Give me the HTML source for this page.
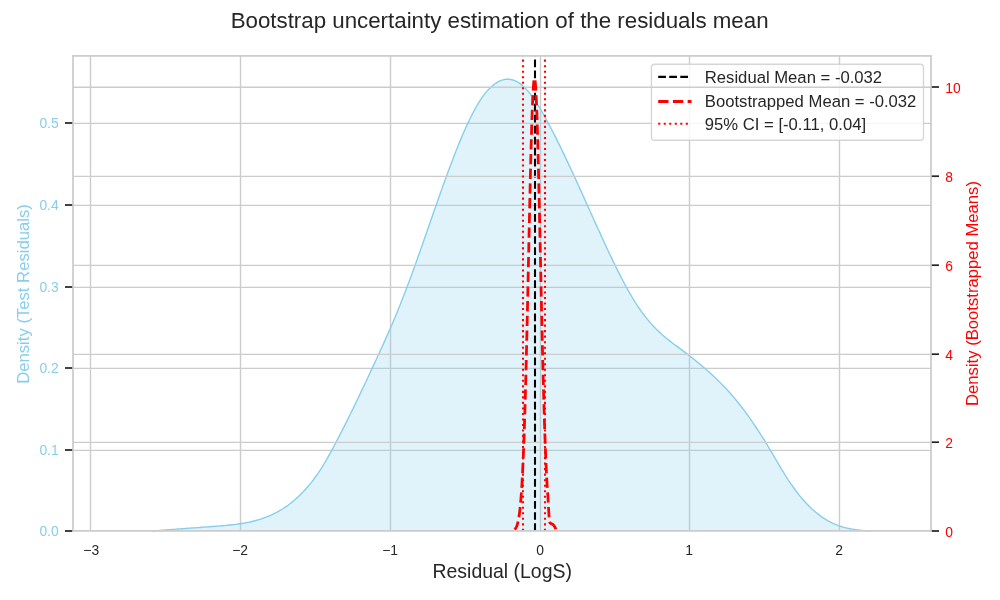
<!DOCTYPE html>
<html lang="en"><head><meta charset="utf-8"><title>Bootstrap uncertainty estimation of the residuals mean</title>
<style>html,body{margin:0;padding:0;background:#fff;overflow:hidden;}svg{display:block;will-change:transform;transform:translateZ(0);}text{font-family:"Liberation Sans",Arial,sans-serif;}</style></head><body>
<svg width="1000" height="600" viewBox="0 0 1000 600">
<rect width="1000" height="600" fill="#ffffff"/>
<g stroke="#cccccc" stroke-width="1.39" fill="none">
<line x1="90.5" y1="55.9" x2="90.5" y2="530.9"/>
<line x1="240.5" y1="55.9" x2="240.5" y2="530.9"/>
<line x1="390.5" y1="55.9" x2="390.5" y2="530.9"/>
<line x1="540.5" y1="55.9" x2="540.5" y2="530.9"/>
<line x1="689.5" y1="55.9" x2="689.5" y2="530.9"/>
<line x1="839.5" y1="55.9" x2="839.5" y2="530.9"/>
<line x1="73.0" y1="450.4" x2="931.0" y2="450.4"/>
<line x1="73.0" y1="368.4" x2="931.0" y2="368.4"/>
<line x1="73.0" y1="287.4" x2="931.0" y2="287.4"/>
<line x1="73.0" y1="205.4" x2="931.0" y2="205.4"/>
<line x1="73.0" y1="123.4" x2="931.0" y2="123.4"/>
</g>
<path d="M152.0,531.00 L154.0,530.97 L156.0,530.79 L158.0,530.62 L160.0,530.45 L162.0,530.28 L164.0,530.11 L166.0,529.95 L168.0,529.79 L170.0,529.64 L172.0,529.48 L174.0,529.33 L176.0,529.18 L178.0,529.03 L180.0,528.89 L182.0,528.74 L184.0,528.59 L186.0,528.45 L188.0,528.31 L190.0,528.16 L192.0,528.02 L194.0,527.88 L196.0,527.74 L198.0,527.59 L200.0,527.45 L202.0,527.30 L204.0,527.16 L206.0,527.01 L208.0,526.86 L210.0,526.71 L212.0,526.56 L214.0,526.40 L216.0,526.24 L218.0,526.08 L220.0,525.92 L222.0,525.75 L224.0,525.58 L226.0,525.40 L228.0,525.21 L230.0,525.01 L232.0,524.80 L234.0,524.57 L236.0,524.33 L238.0,524.06 L240.0,523.78 L242.0,523.47 L244.0,523.13 L246.0,522.77 L248.0,522.38 L250.0,521.95 L252.0,521.49 L254.0,521.00 L256.0,520.47 L258.0,519.90 L260.0,519.29 L262.0,518.63 L264.0,517.93 L266.0,517.18 L268.0,516.38 L270.0,515.53 L272.0,514.63 L274.0,513.67 L276.0,512.65 L278.0,511.57 L280.0,510.43 L282.0,509.22 L284.0,507.95 L286.0,506.61 L288.0,505.20 L290.0,503.72 L292.0,502.16 L294.0,500.52 L296.0,498.80 L298.0,496.99 L300.0,495.09 L302.0,493.10 L304.0,491.01 L306.0,488.83 L308.0,486.53 L310.0,484.13 L312.0,481.62 L314.0,478.99 L316.0,476.25 L318.0,473.38 L320.0,470.39 L322.0,467.27 L324.0,464.01 L326.0,460.64 L328.0,457.15 L330.0,453.57 L332.0,449.91 L334.0,446.18 L336.0,442.39 L338.0,438.56 L340.0,434.69 L342.0,430.78 L344.0,426.83 L346.0,422.84 L348.0,418.82 L350.0,414.77 L352.0,410.69 L354.0,406.59 L356.0,402.45 L358.0,398.29 L360.0,394.11 L362.0,389.91 L364.0,385.69 L366.0,381.45 L368.0,377.20 L370.0,372.93 L372.0,368.65 L374.0,364.36 L376.0,360.06 L378.0,355.74 L380.0,351.39 L382.0,347.01 L384.0,342.59 L386.0,338.12 L388.0,333.61 L390.0,329.04 L392.0,324.41 L394.0,319.71 L396.0,314.93 L398.0,310.08 L400.0,305.14 L402.0,300.11 L404.0,294.99 L406.0,289.78 L408.0,284.50 L410.0,279.15 L412.0,273.72 L414.0,268.23 L416.0,262.68 L418.0,257.08 L420.0,251.44 L422.0,245.76 L424.0,240.05 L426.0,234.32 L428.0,228.57 L430.0,222.82 L432.0,217.08 L434.0,211.34 L436.0,205.62 L438.0,199.92 L440.0,194.25 L442.0,188.63 L444.0,183.06 L446.0,177.54 L448.0,172.08 L450.0,166.69 L452.0,161.39 L454.0,156.17 L456.0,151.05 L458.0,146.03 L460.0,141.13 L462.0,136.35 L464.0,131.71 L466.0,127.21 L468.0,122.88 L470.0,118.70 L472.0,114.70 L474.0,110.89 L476.0,107.27 L478.0,103.86 L480.0,100.66 L482.0,97.68 L484.0,94.93 L486.0,92.40 L488.0,90.09 L490.0,88.01 L492.0,86.14 L494.0,84.50 L496.0,83.07 L498.0,81.87 L500.0,80.89 L502.0,80.14 L504.0,79.61 L506.0,79.31 L508.0,79.23 L510.0,79.38 L512.0,79.76 L514.0,80.37 L516.0,81.21 L518.0,82.29 L520.0,83.59 L522.0,85.13 L524.0,86.90 L526.0,88.90 L528.0,91.13 L530.0,93.58 L532.0,96.21 L534.0,99.03 L536.0,102.02 L538.0,105.17 L540.0,108.45 L542.0,111.86 L544.0,115.39 L546.0,119.01 L548.0,122.70 L550.0,126.46 L552.0,130.29 L554.0,134.17 L556.0,138.11 L558.0,142.11 L560.0,146.16 L562.0,150.26 L564.0,154.41 L566.0,158.61 L568.0,162.84 L570.0,167.12 L572.0,171.42 L574.0,175.76 L576.0,180.12 L578.0,184.51 L580.0,188.91 L582.0,193.33 L584.0,197.76 L586.0,202.20 L588.0,206.64 L590.0,211.08 L592.0,215.52 L594.0,219.95 L596.0,224.37 L598.0,228.78 L600.0,233.16 L602.0,237.53 L604.0,241.87 L606.0,246.18 L608.0,250.46 L610.0,254.70 L612.0,258.90 L614.0,263.04 L616.0,267.12 L618.0,271.14 L620.0,275.10 L622.0,278.97 L624.0,282.77 L626.0,286.48 L628.0,290.09 L630.0,293.61 L632.0,297.02 L634.0,300.32 L636.0,303.50 L638.0,306.56 L640.0,309.49 L642.0,312.30 L644.0,315.00 L646.0,317.57 L648.0,320.04 L650.0,322.40 L652.0,324.66 L654.0,326.82 L656.0,328.89 L658.0,330.86 L660.0,332.75 L662.0,334.56 L664.0,336.29 L666.0,337.96 L668.0,339.58 L670.0,341.15 L672.0,342.68 L674.0,344.19 L676.0,345.68 L678.0,347.16 L680.0,348.64 L682.0,350.13 L684.0,351.63 L686.0,353.14 L688.0,354.67 L690.0,356.22 L692.0,357.78 L694.0,359.36 L696.0,360.97 L698.0,362.59 L700.0,364.23 L702.0,365.91 L704.0,367.60 L706.0,369.33 L708.0,371.09 L710.0,372.87 L712.0,374.70 L714.0,376.56 L716.0,378.46 L718.0,380.39 L720.0,382.37 L722.0,384.40 L724.0,386.47 L726.0,388.59 L728.0,390.76 L730.0,392.98 L732.0,395.26 L734.0,397.59 L736.0,399.99 L738.0,402.44 L740.0,404.95 L742.0,407.53 L744.0,410.17 L746.0,412.87 L748.0,415.63 L750.0,418.46 L752.0,421.33 L754.0,424.27 L756.0,427.26 L758.0,430.30 L760.0,433.39 L762.0,436.53 L764.0,439.73 L766.0,442.97 L768.0,446.25 L770.0,449.58 L772.0,452.96 L774.0,456.36 L776.0,459.77 L778.0,463.18 L780.0,466.57 L782.0,469.91 L784.0,473.20 L786.0,476.42 L788.0,479.54 L790.0,482.55 L792.0,485.47 L794.0,488.27 L796.0,490.98 L798.0,493.58 L800.0,496.08 L802.0,498.48 L804.0,500.78 L806.0,502.98 L808.0,505.08 L810.0,507.09 L812.0,508.99 L814.0,510.80 L816.0,512.52 L818.0,514.14 L820.0,515.66 L822.0,517.09 L824.0,518.43 L826.0,519.68 L828.0,520.84 L830.0,521.91 L832.0,522.90 L834.0,523.81 L836.0,524.65 L838.0,525.41 L840.0,526.11 L842.0,526.75 L844.0,527.32 L846.0,527.84 L848.0,528.30 L850.0,528.71 L852.0,529.08 L854.0,529.41 L856.0,529.70 L858.0,529.95 L860.0,530.18 L862.0,530.38 L864.0,530.57 L866.0,530.74 L868.0,530.89 L870.0,531.00 L870.0,531 L152.0,531 Z" fill="#87ceeb" fill-opacity="0.25" stroke="none"/>
<path d="M152.0,531.00 L154.0,530.97 L156.0,530.79 L158.0,530.62 L160.0,530.45 L162.0,530.28 L164.0,530.11 L166.0,529.95 L168.0,529.79 L170.0,529.64 L172.0,529.48 L174.0,529.33 L176.0,529.18 L178.0,529.03 L180.0,528.89 L182.0,528.74 L184.0,528.59 L186.0,528.45 L188.0,528.31 L190.0,528.16 L192.0,528.02 L194.0,527.88 L196.0,527.74 L198.0,527.59 L200.0,527.45 L202.0,527.30 L204.0,527.16 L206.0,527.01 L208.0,526.86 L210.0,526.71 L212.0,526.56 L214.0,526.40 L216.0,526.24 L218.0,526.08 L220.0,525.92 L222.0,525.75 L224.0,525.58 L226.0,525.40 L228.0,525.21 L230.0,525.01 L232.0,524.80 L234.0,524.57 L236.0,524.33 L238.0,524.06 L240.0,523.78 L242.0,523.47 L244.0,523.13 L246.0,522.77 L248.0,522.38 L250.0,521.95 L252.0,521.49 L254.0,521.00 L256.0,520.47 L258.0,519.90 L260.0,519.29 L262.0,518.63 L264.0,517.93 L266.0,517.18 L268.0,516.38 L270.0,515.53 L272.0,514.63 L274.0,513.67 L276.0,512.65 L278.0,511.57 L280.0,510.43 L282.0,509.22 L284.0,507.95 L286.0,506.61 L288.0,505.20 L290.0,503.72 L292.0,502.16 L294.0,500.52 L296.0,498.80 L298.0,496.99 L300.0,495.09 L302.0,493.10 L304.0,491.01 L306.0,488.83 L308.0,486.53 L310.0,484.13 L312.0,481.62 L314.0,478.99 L316.0,476.25 L318.0,473.38 L320.0,470.39 L322.0,467.27 L324.0,464.01 L326.0,460.64 L328.0,457.15 L330.0,453.57 L332.0,449.91 L334.0,446.18 L336.0,442.39 L338.0,438.56 L340.0,434.69 L342.0,430.78 L344.0,426.83 L346.0,422.84 L348.0,418.82 L350.0,414.77 L352.0,410.69 L354.0,406.59 L356.0,402.45 L358.0,398.29 L360.0,394.11 L362.0,389.91 L364.0,385.69 L366.0,381.45 L368.0,377.20 L370.0,372.93 L372.0,368.65 L374.0,364.36 L376.0,360.06 L378.0,355.74 L380.0,351.39 L382.0,347.01 L384.0,342.59 L386.0,338.12 L388.0,333.61 L390.0,329.04 L392.0,324.41 L394.0,319.71 L396.0,314.93 L398.0,310.08 L400.0,305.14 L402.0,300.11 L404.0,294.99 L406.0,289.78 L408.0,284.50 L410.0,279.15 L412.0,273.72 L414.0,268.23 L416.0,262.68 L418.0,257.08 L420.0,251.44 L422.0,245.76 L424.0,240.05 L426.0,234.32 L428.0,228.57 L430.0,222.82 L432.0,217.08 L434.0,211.34 L436.0,205.62 L438.0,199.92 L440.0,194.25 L442.0,188.63 L444.0,183.06 L446.0,177.54 L448.0,172.08 L450.0,166.69 L452.0,161.39 L454.0,156.17 L456.0,151.05 L458.0,146.03 L460.0,141.13 L462.0,136.35 L464.0,131.71 L466.0,127.21 L468.0,122.88 L470.0,118.70 L472.0,114.70 L474.0,110.89 L476.0,107.27 L478.0,103.86 L480.0,100.66 L482.0,97.68 L484.0,94.93 L486.0,92.40 L488.0,90.09 L490.0,88.01 L492.0,86.14 L494.0,84.50 L496.0,83.07 L498.0,81.87 L500.0,80.89 L502.0,80.14 L504.0,79.61 L506.0,79.31 L508.0,79.23 L510.0,79.38 L512.0,79.76 L514.0,80.37 L516.0,81.21 L518.0,82.29 L520.0,83.59 L522.0,85.13 L524.0,86.90 L526.0,88.90 L528.0,91.13 L530.0,93.58 L532.0,96.21 L534.0,99.03 L536.0,102.02 L538.0,105.17 L540.0,108.45 L542.0,111.86 L544.0,115.39 L546.0,119.01 L548.0,122.70 L550.0,126.46 L552.0,130.29 L554.0,134.17 L556.0,138.11 L558.0,142.11 L560.0,146.16 L562.0,150.26 L564.0,154.41 L566.0,158.61 L568.0,162.84 L570.0,167.12 L572.0,171.42 L574.0,175.76 L576.0,180.12 L578.0,184.51 L580.0,188.91 L582.0,193.33 L584.0,197.76 L586.0,202.20 L588.0,206.64 L590.0,211.08 L592.0,215.52 L594.0,219.95 L596.0,224.37 L598.0,228.78 L600.0,233.16 L602.0,237.53 L604.0,241.87 L606.0,246.18 L608.0,250.46 L610.0,254.70 L612.0,258.90 L614.0,263.04 L616.0,267.12 L618.0,271.14 L620.0,275.10 L622.0,278.97 L624.0,282.77 L626.0,286.48 L628.0,290.09 L630.0,293.61 L632.0,297.02 L634.0,300.32 L636.0,303.50 L638.0,306.56 L640.0,309.49 L642.0,312.30 L644.0,315.00 L646.0,317.57 L648.0,320.04 L650.0,322.40 L652.0,324.66 L654.0,326.82 L656.0,328.89 L658.0,330.86 L660.0,332.75 L662.0,334.56 L664.0,336.29 L666.0,337.96 L668.0,339.58 L670.0,341.15 L672.0,342.68 L674.0,344.19 L676.0,345.68 L678.0,347.16 L680.0,348.64 L682.0,350.13 L684.0,351.63 L686.0,353.14 L688.0,354.67 L690.0,356.22 L692.0,357.78 L694.0,359.36 L696.0,360.97 L698.0,362.59 L700.0,364.23 L702.0,365.91 L704.0,367.60 L706.0,369.33 L708.0,371.09 L710.0,372.87 L712.0,374.70 L714.0,376.56 L716.0,378.46 L718.0,380.39 L720.0,382.37 L722.0,384.40 L724.0,386.47 L726.0,388.59 L728.0,390.76 L730.0,392.98 L732.0,395.26 L734.0,397.59 L736.0,399.99 L738.0,402.44 L740.0,404.95 L742.0,407.53 L744.0,410.17 L746.0,412.87 L748.0,415.63 L750.0,418.46 L752.0,421.33 L754.0,424.27 L756.0,427.26 L758.0,430.30 L760.0,433.39 L762.0,436.53 L764.0,439.73 L766.0,442.97 L768.0,446.25 L770.0,449.58 L772.0,452.96 L774.0,456.36 L776.0,459.77 L778.0,463.18 L780.0,466.57 L782.0,469.91 L784.0,473.20 L786.0,476.42 L788.0,479.54 L790.0,482.55 L792.0,485.47 L794.0,488.27 L796.0,490.98 L798.0,493.58 L800.0,496.08 L802.0,498.48 L804.0,500.78 L806.0,502.98 L808.0,505.08 L810.0,507.09 L812.0,508.99 L814.0,510.80 L816.0,512.52 L818.0,514.14 L820.0,515.66 L822.0,517.09 L824.0,518.43 L826.0,519.68 L828.0,520.84 L830.0,521.91 L832.0,522.90 L834.0,523.81 L836.0,524.65 L838.0,525.41 L840.0,526.11 L842.0,526.75 L844.0,527.32 L846.0,527.84 L848.0,528.30 L850.0,528.71 L852.0,529.08 L854.0,529.41 L856.0,529.70 L858.0,529.95 L860.0,530.18 L862.0,530.38 L864.0,530.57 L866.0,530.74 L868.0,530.89 L870.0,531.00" fill="none" stroke="#87ceeb" stroke-width="1.39" stroke-linejoin="round"/>
<line x1="535" y1="530.9" x2="535" y2="55.9" stroke="#000" stroke-width="2.08" stroke-dasharray="7.71 3.33"/>
<rect x="651.4" y="64.3" width="272.1" height="75.9" rx="3.3" ry="3.3" fill="#ffffff" fill-opacity="0.8" stroke="#cccccc" stroke-opacity="0.8" stroke-width="1.39"/>
<line x1="658.2" y1="76.9" x2="691.2" y2="76.9" stroke="#000" stroke-width="2.08" stroke-dasharray="7.71 3.33"/>
<line x1="658.2" y1="101.5" x2="691.5" y2="101.5" stroke="#f00" stroke-width="2.78" stroke-dasharray="10.28 4.44"/>
<line x1="658.2" y1="123.7" x2="691.2" y2="123.7" stroke="#f00" stroke-width="2.08" stroke-dasharray="2.08 3.44"/>
<g font-size="16.67" fill="#262626">
<text x="704.8" y="82.7">Residual Mean = -0.032</text>
<text x="704.8" y="106.7">Bootstrapped Mean = -0.032</text>
<text x="704.8" y="129.6">95% CI = [-0.11, 0.04]</text>
</g>
<g stroke="#cccccc" stroke-width="1.39" fill="none">
<line x1="73.0" y1="442.4" x2="931.0" y2="442.4"/>
<line x1="73.0" y1="354.4" x2="931.0" y2="354.4"/>
<line x1="73.0" y1="265.4" x2="931.0" y2="265.4"/>
<line x1="73.0" y1="176.4" x2="931.0" y2="176.4"/>
<line x1="73.0" y1="87.2" x2="931.0" y2="87.2"/>
</g>
<line x1="523" y1="530.9" x2="523" y2="55.9" stroke="#f00" stroke-width="2.08" stroke-dasharray="2.08 3.44"/>
<line x1="545" y1="530.9" x2="545" y2="55.9" stroke="#f00" stroke-width="2.08" stroke-dasharray="2.08 3.44"/>
<path d="M514.60,529.47 L514.65,529.42 L514.70,529.38 L514.75,529.33 L514.80,529.28 L514.85,529.23 L514.90,529.18 L514.95,529.13 L515.00,529.08 L515.05,529.02 L515.10,528.97 L515.15,528.91 L515.20,528.85 L515.25,528.79 L515.30,528.73 L515.35,528.67 L515.40,528.60 L515.45,528.53 L515.50,528.47 L515.55,528.40 L515.60,528.32 L515.65,528.25 L515.70,528.17 L515.75,528.10 L515.80,528.02 L515.85,527.94 L515.90,527.85 L515.95,527.77 L516.00,527.68 L516.05,527.59 L516.10,527.50 L516.15,527.41 L516.20,527.31 L516.25,527.21 L516.30,527.11 L516.35,527.01 L516.40,526.91 L516.45,526.80 L516.50,526.69 L516.55,526.58 L516.60,526.46 L516.65,526.34 L516.70,526.22 L516.75,526.10 L516.80,525.97 L516.85,525.84 L516.90,525.71 L516.95,525.57 L517.00,525.44 L517.05,525.29 L517.10,525.15 L517.15,525.00 L517.20,524.85 L517.25,524.70 L517.30,524.54 L517.35,524.38 L517.40,524.21 L517.45,524.04 L517.50,523.87 L517.55,523.70 L517.60,523.52 L517.65,523.33 L517.70,523.14 L517.75,522.95 L517.80,522.76 L517.85,522.56 L517.90,522.35 L517.95,522.15 L518.00,521.93 L518.05,521.72 L518.10,521.49 L518.15,521.27 L518.20,521.04 L518.25,520.80 L518.30,520.56 L518.35,520.31 L518.40,520.06 L518.45,519.81 L518.50,519.55 L518.55,519.28 L518.60,519.01 L518.65,518.74 L518.70,518.45 L518.75,518.17 L518.80,517.87 L518.85,517.57 L518.90,517.27 L518.95,516.96 L519.00,516.64 L519.05,516.32 L519.10,515.99 L519.15,515.65 L519.20,515.31 L519.25,514.96 L519.30,514.61 L519.35,514.25 L519.40,513.88 L519.45,513.51 L519.50,513.13 L519.55,512.74 L519.60,512.34 L519.65,511.94 L519.70,511.53 L519.75,511.11 L519.80,510.68 L519.85,510.25 L519.90,509.81 L519.95,509.36 L520.00,508.91 L520.05,508.44 L520.10,507.97 L520.15,507.49 L520.20,507.00 L520.25,506.50 L520.30,506.00 L520.35,505.48 L520.40,504.96 L520.45,504.43 L520.50,503.89 L520.55,503.34 L520.60,502.78 L520.65,502.21 L520.70,501.63 L520.75,501.05 L520.80,500.45 L520.85,499.85 L520.90,499.23 L520.95,498.60 L521.00,497.97 L521.05,497.32 L521.10,496.67 L521.15,496.00 L521.20,495.33 L521.25,494.64 L521.30,493.94 L521.35,493.23 L521.40,492.51 L521.45,491.79 L521.50,491.04 L521.55,490.29 L521.60,489.53 L521.65,488.76 L521.70,487.97 L521.75,487.17 L521.80,486.37 L521.85,485.55 L521.90,484.71 L521.95,483.87 L522.00,483.01 L522.05,482.15 L522.10,481.27 L522.15,480.38 L522.20,479.47 L522.25,478.55 L522.30,477.63 L522.35,476.68 L522.40,475.73 L522.45,474.76 L522.50,473.78 L522.55,472.79 L522.60,471.78 L522.65,470.77 L522.70,469.73 L522.75,468.69 L522.80,467.63 L522.85,466.56 L522.90,465.47 L522.95,464.38 L523.00,463.26 L523.05,462.14 L523.10,461.00 L523.15,459.84 L523.20,458.68 L523.25,457.50 L523.30,456.30 L523.35,455.09 L523.40,453.87 L523.45,452.63 L523.50,451.38 L523.55,450.12 L523.60,448.84 L523.65,447.55 L523.70,446.24 L523.75,444.92 L523.80,443.58 L523.85,442.23 L523.90,440.86 L523.95,439.48 L524.00,438.09 L524.05,436.68 L524.10,435.26 L524.15,433.82 L524.20,432.37 L524.25,430.90 L524.30,429.42 L524.35,427.93 L524.40,426.42 L524.45,424.89 L524.50,423.35 L524.55,421.80 L524.60,420.23 L524.65,418.65 L524.70,417.05 L524.75,415.44 L524.80,413.82 L524.85,412.18 L524.90,410.52 L524.95,408.85 L525.00,407.17 L525.05,405.47 L525.10,403.76 L525.15,402.04 L525.20,400.30 L525.25,398.55 L525.30,396.78 L525.35,395.00 L525.40,393.20 L525.45,391.40 L525.50,389.57 L525.55,387.74 L525.60,385.89 L525.65,384.03 L525.70,382.15 L525.75,380.27 L525.80,378.37 L525.85,376.45 L525.90,374.53 L525.95,372.59 L526.00,370.63 L526.05,368.67 L526.10,366.69 L526.15,364.71 L526.20,362.71 L526.25,360.69 L526.30,358.67 L526.35,356.63 L526.40,354.59 L526.45,352.53 L526.50,350.46 L526.55,348.38 L526.60,346.29 L526.65,344.19 L526.70,342.08 L526.75,339.95 L526.80,337.82 L526.85,335.68 L526.90,333.53 L526.95,331.37 L527.00,329.20 L527.05,327.02 L527.10,324.84 L527.15,322.64 L527.20,320.44 L527.25,318.22 L527.30,316.00 L527.35,313.78 L527.40,311.54 L527.45,309.30 L527.50,307.05 L527.55,304.80 L527.60,302.54 L527.65,300.27 L527.70,298.00 L527.75,295.72 L527.80,293.43 L527.85,291.15 L527.90,288.85 L527.95,286.55 L528.00,284.25 L528.05,281.95 L528.10,279.64 L528.15,277.33 L528.20,275.01 L528.25,272.69 L528.30,270.37 L528.35,268.05 L528.40,265.73 L528.45,263.40 L528.50,261.08 L528.55,258.75 L528.60,256.42 L528.65,254.10 L528.70,251.77 L528.75,249.44 L528.80,247.12 L528.85,244.80 L528.90,242.47 L528.95,240.15 L529.00,237.84 L529.05,235.52 L529.10,233.21 L529.15,230.90 L529.20,228.60 L529.25,226.30 L529.30,224.00 L529.35,221.71 L529.40,219.43 L529.45,217.15 L529.50,214.88 L529.55,212.61 L529.60,210.35 L529.65,208.09 L529.70,205.85 L529.75,203.61 L529.80,201.38 L529.85,199.16 L529.90,196.95 L529.95,194.75 L530.00,192.55 L530.05,190.37 L530.10,188.20 L530.15,186.04 L530.20,183.89 L530.25,181.75 L530.30,179.62 L530.35,177.51 L530.40,175.41 L530.45,173.32 L530.50,171.25 L530.55,169.19 L530.60,167.14 L530.65,165.11 L530.70,163.10 L530.75,161.10 L530.80,159.11 L530.85,157.14 L530.90,155.19 L530.95,153.26 L531.00,151.34 L531.05,149.44 L531.10,147.56 L531.15,145.70 L531.20,143.85 L531.25,142.03 L531.30,140.22 L531.35,138.43 L531.40,136.67 L531.45,134.92 L531.50,133.20 L531.55,131.49 L531.60,129.81 L531.65,128.15 L531.70,126.51 L531.75,124.90 L531.80,123.31 L531.85,121.74 L531.90,120.19 L531.95,118.67 L532.00,117.17 L532.05,115.70 L532.10,114.25 L532.15,112.82 L532.20,111.42 L532.25,110.05 L532.30,108.70 L532.35,107.38 L532.40,106.09 L532.45,104.82 L532.50,103.58 L532.55,102.36 L532.60,101.18 L532.65,100.02 L532.70,98.89 L532.75,97.78 L532.80,96.71 L532.85,95.66 L532.90,94.64 L532.95,93.66 L533.00,92.70 L533.05,91.77 L533.10,90.87 L533.15,90.00 L533.20,89.16 L533.25,88.35 L533.30,87.57 L533.35,86.82 L533.40,86.10 L533.45,85.41 L533.50,84.76 L533.55,84.13 L533.60,83.54 L533.65,82.97 L533.70,82.44 L533.75,81.94 L533.80,81.48 L533.85,81.04 L533.90,80.63 L533.95,80.26 L534.00,79.92 L534.05,79.61 L534.10,79.34 L534.15,79.10 L534.20,78.88 L534.25,78.71 L534.30,78.56 L534.35,78.45 L534.40,78.37 L534.45,78.32 L534.50,78.30 L534.55,78.32 L534.60,78.37 L534.65,78.45 L534.70,78.56 L534.75,78.71 L534.80,78.88 L534.85,79.10 L534.90,79.34 L534.95,79.61 L535.00,79.92 L535.05,80.26 L535.10,80.63 L535.15,81.04 L535.20,81.48 L535.25,81.94 L535.30,82.44 L535.35,82.97 L535.40,83.54 L535.45,84.13 L535.50,84.76 L535.55,85.41 L535.60,86.10 L535.65,86.82 L535.70,87.57 L535.75,88.35 L535.80,89.16 L535.85,90.00 L535.90,90.87 L535.95,91.77 L536.00,92.70 L536.05,93.66 L536.10,94.64 L536.15,95.66 L536.20,96.71 L536.25,97.78 L536.30,98.89 L536.35,100.02 L536.40,101.18 L536.45,102.36 L536.50,103.58 L536.55,104.82 L536.60,106.09 L536.65,107.38 L536.70,108.70 L536.75,110.05 L536.80,111.42 L536.85,112.82 L536.90,114.25 L536.95,115.70 L537.00,117.17 L537.05,118.67 L537.10,120.19 L537.15,121.74 L537.20,123.31 L537.25,124.90 L537.30,126.51 L537.35,128.15 L537.40,129.81 L537.45,131.49 L537.50,133.20 L537.55,134.92 L537.60,136.67 L537.65,138.43 L537.70,140.22 L537.75,142.03 L537.80,143.85 L537.85,145.70 L537.90,147.56 L537.95,149.44 L538.00,151.34 L538.05,153.26 L538.10,155.19 L538.15,157.14 L538.20,159.11 L538.25,161.10 L538.30,163.10 L538.35,165.11 L538.40,167.14 L538.45,169.19 L538.50,171.25 L538.55,173.32 L538.60,175.41 L538.65,177.51 L538.70,179.62 L538.75,181.75 L538.80,183.89 L538.85,186.04 L538.90,188.20 L538.95,190.37 L539.00,192.55 L539.05,194.75 L539.10,196.95 L539.15,199.16 L539.20,201.38 L539.25,203.61 L539.30,205.85 L539.35,208.09 L539.40,210.35 L539.45,212.61 L539.50,214.88 L539.55,217.15 L539.60,219.43 L539.65,221.71 L539.70,224.00 L539.75,226.30 L539.80,228.60 L539.85,230.90 L539.90,233.21 L539.95,235.52 L540.00,237.84 L540.05,240.15 L540.10,242.47 L540.15,244.80 L540.20,247.12 L540.25,249.44 L540.30,251.77 L540.35,254.10 L540.40,256.42 L540.45,258.75 L540.50,261.08 L540.55,263.40 L540.60,265.73 L540.65,268.05 L540.70,270.37 L540.75,272.69 L540.80,275.01 L540.85,277.33 L540.90,279.64 L540.95,281.95 L541.00,284.25 L541.05,286.55 L541.10,288.85 L541.15,291.15 L541.20,293.43 L541.25,295.72 L541.30,298.00 L541.35,300.27 L541.40,302.54 L541.45,304.80 L541.50,307.05 L541.55,309.30 L541.60,311.54 L541.65,313.78 L541.70,316.00 L541.75,318.22 L541.80,320.44 L541.85,322.64 L541.90,324.84 L541.95,327.02 L542.00,329.20 L542.05,331.37 L542.10,333.53 L542.15,335.68 L542.20,337.82 L542.25,339.95 L542.30,342.08 L542.35,344.19 L542.40,346.29 L542.45,348.38 L542.50,350.46 L542.55,352.53 L542.60,354.59 L542.65,356.63 L542.70,358.67 L542.75,360.69 L542.80,362.71 L542.85,364.71 L542.90,366.69 L542.95,368.67 L543.00,370.63 L543.05,372.59 L543.10,374.53 L543.15,376.45 L543.20,378.37 L543.25,380.27 L543.30,382.15 L543.35,384.03 L543.40,385.89 L543.45,387.74 L543.50,389.57 L543.55,391.40 L543.60,393.20 L543.65,395.00 L543.70,396.78 L543.75,398.55 L543.80,400.30 L543.85,402.04 L543.90,403.76 L543.95,405.47 L544.00,407.17 L544.05,408.85 L544.10,410.52 L544.15,412.18 L544.20,413.82 L544.25,415.44 L544.30,417.05 L544.35,418.65 L544.40,420.23 L544.45,421.80 L544.50,423.35 L544.55,424.89 L544.60,426.42 L544.65,427.93 L544.70,429.42 L544.75,430.90 L544.80,432.37 L544.85,433.82 L544.90,435.26 L544.95,436.68 L545.00,438.09 L545.05,439.48 L545.10,440.86 L545.15,442.23 L545.20,443.58 L545.25,444.92 L545.30,446.24 L545.35,447.55 L545.40,448.84 L545.45,450.12 L545.50,451.38 L545.55,452.63 L545.60,453.87 L545.65,455.09 L545.70,456.30 L545.75,457.50 L545.80,458.68 L545.85,459.84 L545.90,461.00 L545.95,462.14 L546.00,463.26 L546.05,464.38 L546.10,465.47 L546.15,466.56 L546.20,467.63 L546.25,468.69 L546.30,469.73 L546.35,470.77 L546.40,471.78 L546.45,472.79 L546.50,473.78 L546.55,474.76 L546.60,475.73 L546.65,476.68 L546.70,477.63 L546.75,478.55 L546.80,479.47 L546.85,480.38 L546.90,481.27 L546.95,482.15 L547.00,483.01 L547.05,483.87 L547.10,484.71 L547.15,485.55 L547.20,486.37 L547.25,487.17 L547.30,487.97 L547.35,488.76 L547.40,489.53 L547.45,490.29 L547.50,491.04 L547.55,491.63 L547.60,492.25 L547.65,492.89 L547.70,493.55 L547.75,494.24 L547.80,494.95 L547.85,495.67 L547.90,496.42 L547.95,497.19 L548.00,497.97 L548.05,498.79 L548.10,499.66 L548.15,500.58 L548.20,501.52 L548.25,502.48 L548.30,503.45 L548.35,504.42 L548.40,505.37 L548.45,506.30 L548.50,507.20 L548.55,508.08 L548.60,508.96 L548.65,509.84 L548.70,510.72 L548.75,511.58 L548.80,512.42 L548.85,513.24 L548.90,514.03 L548.95,514.79 L549.00,515.50 L549.05,516.20 L549.10,516.89 L549.15,517.56 L549.20,518.22 L549.25,518.83 L549.30,519.39 L549.35,519.88 L549.40,520.30 L549.45,520.67 L549.50,521.03 L549.55,521.37 L549.60,521.68 L549.65,521.95 L549.70,522.18 L549.75,522.37 L549.80,522.50 L549.85,522.60 L549.90,522.68 L549.95,522.76 L550.00,522.84 L550.05,522.90 L550.10,522.96 L550.15,523.02 L550.20,523.07 L550.25,523.11 L550.30,523.16 L550.35,523.19 L550.40,523.23 L550.45,523.27 L550.50,523.30 L550.55,523.33 L550.60,523.36 L550.65,523.39 L550.70,523.42 L550.75,523.44 L550.80,523.46 L550.85,523.49 L550.90,523.51 L550.95,523.53 L551.00,523.55 L551.05,523.57 L551.10,523.59 L551.15,523.61 L551.20,523.63 L551.25,523.64 L551.30,523.66 L551.35,523.68 L551.40,523.71 L551.45,523.73 L551.50,523.75 L551.55,523.77 L551.60,523.80 L551.65,523.82 L551.70,523.84 L551.75,523.86 L551.80,523.88 L551.85,523.91 L551.90,523.93 L551.95,523.95 L552.00,523.97 L552.05,523.99 L552.10,524.01 L552.15,524.03 L552.20,524.05 L552.25,524.08 L552.30,524.10 L552.35,524.12 L552.40,524.15 L552.45,524.17 L552.50,524.20 L552.55,524.22 L552.60,524.25 L552.65,524.28 L552.70,524.31 L552.75,524.33 L552.80,524.37 L552.85,524.40 L552.90,524.43 L552.95,524.46 L553.00,524.50 L553.05,524.54 L553.10,524.58 L553.15,524.62 L553.20,524.67 L553.25,524.72 L553.30,524.77 L553.35,524.82 L553.40,524.88 L553.45,524.94 L553.50,525.00 L553.55,525.06 L553.60,525.13 L553.65,525.19 L553.70,525.26 L553.75,525.33 L553.80,525.40 L553.85,525.48 L553.90,525.55 L553.95,525.63 L554.00,525.70 L554.05,525.78 L554.10,525.86 L554.15,525.94 L554.20,526.02 L554.25,526.10 L554.30,526.18 L554.35,526.26 L554.40,526.34 L554.45,526.42 L554.50,526.51 L554.55,526.59 L554.60,526.67 L554.65,526.75 L554.70,526.83 L554.75,526.92 L554.80,527.00 L554.85,527.09 L554.90,527.18 L554.95,527.27 L555.00,527.36 L555.05,527.45 L555.10,527.55 L555.15,527.64 L555.20,527.74 L555.25,527.84 L555.30,527.94 L555.35,528.04 L555.40,528.14 L555.45,528.25 L555.50,528.35 L555.55,528.46 L555.60,528.56 L555.65,528.67 L555.70,528.78 L555.75,528.89 L555.80,529.00 L555.85,529.11 L555.90,529.23 L555.95,529.34 L556.00,529.46 L556.05,529.58 L556.10,529.70 L556.15,529.82 L556.20,529.95 L556.25,530.08 L556.30,530.20 L556.35,530.33 L556.40,530.46 L556.45,530.60 L556.50,530.73 L556.55,530.86 L556.60,531.00" fill="none" stroke="#f00" stroke-width="2.78" stroke-dasharray="10.28 4.44" stroke-dashoffset="1.51" stroke-linejoin="round"/>
<rect x="73.0" y="55.9" width="858.0" height="475.0" fill="none" stroke="#cccccc" stroke-width="1.74"/>
<g stroke="#262626" stroke-width="1.74">
<line x1="65" y1="531" x2="72.2" y2="531"/>
<line x1="65" y1="450" x2="72.2" y2="450"/>
<line x1="65" y1="368" x2="72.2" y2="368"/>
<line x1="65" y1="287" x2="72.2" y2="287"/>
<line x1="65" y1="205" x2="72.2" y2="205"/>
<line x1="65" y1="123" x2="72.2" y2="123"/>
<line x1="931.8" y1="531" x2="939" y2="531"/>
<line x1="931.8" y1="442.2" x2="939" y2="442.2"/>
<line x1="931.8" y1="354.2" x2="939" y2="354.2"/>
<line x1="931.8" y1="265.2" x2="939" y2="265.2"/>
<line x1="931.8" y1="176.2" x2="939" y2="176.2"/>
<line x1="931.8" y1="87" x2="939" y2="87"/>
</g>
<g font-size="13.89" fill="#262626" text-anchor="middle">
<text x="91.19999999999999" y="554.8">−3</text>
<text x="240.1" y="554.8">−2</text>
<text x="390.1" y="554.8">−1</text>
<text x="540.1" y="554.8">0</text>
<text x="689.1" y="554.8">1</text>
<text x="839.1" y="554.8">2</text>
</g>
<g font-size="13.89" fill="#87ceeb" text-anchor="end">
<text x="58.7" y="536.0">0.0</text>
<text x="58.7" y="455.0">0.1</text>
<text x="58.7" y="373.0">0.2</text>
<text x="58.7" y="292.0">0.3</text>
<text x="58.7" y="210.0">0.4</text>
<text x="58.7" y="128.0">0.5</text>
</g>
<g font-size="13.89" fill="#ff0000" text-anchor="start">
<text x="945.3" y="536.8">0</text>
<text x="945.3" y="448.0">2</text>
<text x="945.3" y="360.0">4</text>
<text x="945.3" y="271.0">6</text>
<text x="945.3" y="182.0">8</text>
<text x="945.3" y="92.8">10</text>
</g>
<text x="499.6" y="27.75" font-size="22.31" fill="#262626" text-anchor="middle">Bootstrap uncertainty estimation of the residuals mean</text>
<text x="502.2" y="577.6" font-size="19.44" fill="#262626" text-anchor="middle">Residual (LogS)</text>
<text transform="translate(28.6,294) rotate(-90)" font-size="16.67" fill="#87ceeb" text-anchor="middle">Density (Test Residuals)</text>
<text transform="translate(978.1,293.5) rotate(-90)" font-size="16.67" fill="#ff0000" text-anchor="middle">Density (Bootstrapped Means)</text>
</svg></body></html>
